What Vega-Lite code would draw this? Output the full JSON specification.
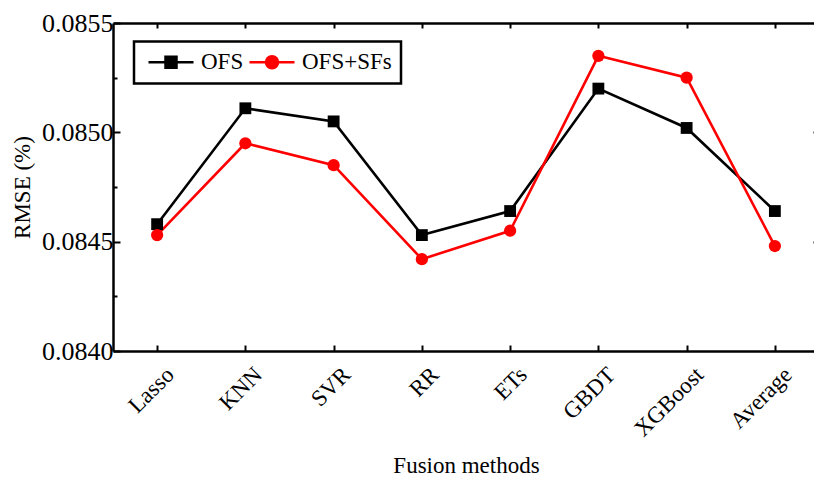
{
  "$schema": "https://vega.github.io/schema/vega-lite/v6.json",
  "width": 706,
  "height": 328,
  "autosize": {"type": "none"},
  "padding": {"left": 113, "top": 23, "right": 0, "bottom": 128},
  "config": {
    "font": "Liberation Serif",
    "view": {"stroke": null},
    "axis": {
      "domainColor": "black", "domainWidth": 2.5,
      "tickColor": "black", "tickWidth": 2,
      "labelColor": "black", "titleColor": "black",
      "labelFont": "Liberation Serif", "titleFont": "Liberation Serif",
      "labelFontSize": 23, "titleFontSize": 23, "titleFontWeight": "normal",
      "grid": false
    },
    "legend": {"labelFont": "Liberation Serif", "labelFontSize": 23, "labelColor": "black"}
  },
  "data": {
    "values": [
      {"method": "Lasso", "series": "OFS", "rmse": 0.08458},
      {"method": "KNN", "series": "OFS", "rmse": 0.08511},
      {"method": "SVR", "series": "OFS", "rmse": 0.08505},
      {"method": "RR", "series": "OFS", "rmse": 0.08453},
      {"method": "ETs", "series": "OFS", "rmse": 0.08464},
      {"method": "GBDT", "series": "OFS", "rmse": 0.0852},
      {"method": "XGBoost", "series": "OFS", "rmse": 0.08502},
      {"method": "Average", "series": "OFS", "rmse": 0.08464},
      {"method": "Lasso", "series": "OFS+SFs", "rmse": 0.08453},
      {"method": "KNN", "series": "OFS+SFs", "rmse": 0.08495},
      {"method": "SVR", "series": "OFS+SFs", "rmse": 0.08485},
      {"method": "RR", "series": "OFS+SFs", "rmse": 0.08442},
      {"method": "ETs", "series": "OFS+SFs", "rmse": 0.08455},
      {"method": "GBDT", "series": "OFS+SFs", "rmse": 0.08535},
      {"method": "XGBoost", "series": "OFS+SFs", "rmse": 0.08525},
      {"method": "Average", "series": "OFS+SFs", "rmse": 0.08448}
    ]
  },
  "layer": [
    {
      "mark": {"type": "line", "strokeWidth": 2.6},
      "encoding": {
        "x": {
          "field": "method", "type": "nominal", "sort": null,
          "scale": {"type": "point", "padding": 0.5},
          "axis": {"orient": "bottom", "title": "Fusion methods", "labelAngle": -45, "tickSize": -6, "labelPadding": 18, "labelOffset": 5, "titlePadding": 14}
        },
        "y": {
          "field": "rmse", "type": "quantitative",
          "scale": {"domain": [0.084, 0.0855], "zero": false, "nice": false},
          "axis": {
            "orient": "left", "title": "RMSE (%)",
            "values": [0.084, 0.08425, 0.0845, 0.08475, 0.085, 0.08525, 0.0855],
            "labelExpr": "abs(datum.value*2000 - round(datum.value*2000)) < 0.01 ? format(datum.value, '.4f') : ''",
            "tickSize": {"condition": {"test": "abs(datum.value*2000 - round(datum.value*2000)) < 0.01", "value": -7}, "value": -4},
            "labelFontSize": 26,
            "labelPadding": 7, "titlePadding": 7
          }
        },
        "color": {
          "field": "series", "type": "nominal",
          "scale": {"domain": ["OFS", "OFS+SFs"], "range": ["#000000", "#ff0000"]},
          "legend": {
            "title": null, "orient": "none", "legendX": 21, "legendY": 18.5,
            "direction": "horizontal", "columns": 2,
            "symbolSize": 400, "symbolStrokeWidth": 2.5, "labelOffset": 35, "columnPadding": 0,
            "padding": 9, "strokeColor": "black",
            "encode": {
              "legend": {"update": {"strokeWidth": {"value": 2.5}}},
              "symbols": {"update": {
                "shape": {"signal": "datum.value === 'OFS' ? 'M-0.6,0L3.9,0M1.1,-0.55L2.2,-0.55L2.2,0.55L1.1,0.55Z' : 'M-0.6,0L3.9,0M2.25,0A0.6,0.6 0 1,1 1.05,0A0.6,0.6 0 1,1 2.25,0Z'"},
                "size": {"value": 400},
                "fill": {"signal": "datum.value === 'OFS' ? '#000000' : '#ff0000'"},
                "stroke": {"signal": "datum.value === 'OFS' ? '#000000' : '#ff0000'"},
                "strokeWidth": {"value": 2.5},
                "opacity": {"value": 1}
              }}
            }
          }
        }
      }
    },
    {
      "transform": [{"filter": "datum.series === 'OFS'"}],
      "mark": {"type": "point", "filled": true, "opacity": 1, "shape": "square", "size": 140, "color": "#000000"},
      "encoding": {
        "x": {
          "field": "method", "type": "nominal", "sort": null,
          "scale": {"type": "point", "padding": 0.5},
          "axis": {"orient": "top", "title": null, "labels": false, "tickSize": -5}
        },
        "y": {
          "field": "rmse", "type": "quantitative",
          "scale": {"domain": [0.084, 0.0855], "zero": false, "nice": false},
          "axis": {"orient": "right", "title": null, "labels": false, "values": [0.084, 0.0845, 0.085, 0.0855], "tickSize": -6}
        }
      }
    },
    {
      "transform": [{"filter": "datum.series === 'OFS+SFs'"}],
      "mark": {"type": "point", "filled": true, "opacity": 1, "shape": "circle", "size": 150, "color": "#ff0000"},
      "encoding": {
        "x": {"field": "method", "type": "nominal", "sort": null, "scale": {"type": "point", "padding": 0.5}, "axis": null},
        "y": {"field": "rmse", "type": "quantitative", "scale": {"domain": [0.084, 0.0855], "zero": false, "nice": false}, "axis": null}
      }
    }
  ],
  "resolve": {"axis": {"x": "independent", "y": "independent"}}
}
